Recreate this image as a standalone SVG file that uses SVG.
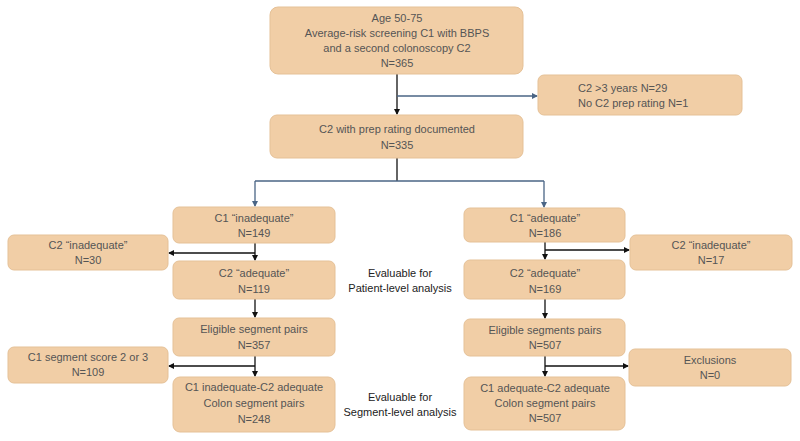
<svg xmlns="http://www.w3.org/2000/svg" width="800" height="441" viewBox="0 0 800 441">
<style>
.box{fill:#F1CEA6;stroke:#E5C197;stroke-width:1}
.t{font-family:"Liberation Sans",Arial,sans-serif;font-size:11px;fill:#555;text-anchor:middle}
.e{font-family:"Liberation Sans",Arial,sans-serif;font-size:11px;fill:#222;text-anchor:middle}
.k{stroke:#111;stroke-width:1.3;fill:none}
.b{stroke:#4a6585;stroke-width:1.3;fill:none}
</style>
<defs>
<marker id="ak" markerWidth="6" markerHeight="6" refX="5" refY="3" orient="auto" markerUnits="userSpaceOnUse"><path d="M0,0L6,3L0,6z" fill="#111"/></marker>
<marker id="ab" markerWidth="6" markerHeight="6" refX="5" refY="3" orient="auto" markerUnits="userSpaceOnUse"><path d="M0,0L6,3L0,6z" fill="#4a6585"/></marker>
</defs>
<rect width="800" height="441" fill="#fff"/>
<g id="connectors">
<path class="k" d="M397,74V114" marker-end="url(#ak)"/>
<path class="b" d="M397,96H537" marker-end="url(#ab)"/>
<path class="k" d="M397,158V181"/>
<path class="b" d="M255,181H544"/>
<path class="b" d="M255,181V206" marker-end="url(#ab)"/>
<path class="b" d="M544,181V207" marker-end="url(#ab)"/>
<path class="k" d="M255,243V260" marker-end="url(#ak)"/>
<path class="k" d="M255,253H169" marker-end="url(#ak)"/>
<path class="k" d="M545,242V259" marker-end="url(#ak)"/>
<path class="k" d="M545,250H629" marker-end="url(#ak)"/>
<path class="k" d="M255,299V317" marker-end="url(#ak)"/>
<path class="k" d="M545,299V318" marker-end="url(#ak)"/>
<path class="k" d="M255,356V376" marker-end="url(#ak)"/>
<path class="k" d="M255,366H169" marker-end="url(#ak)"/>
<path class="k" d="M545,356V376" marker-end="url(#ak)"/>
<path class="k" d="M545,366H628" marker-end="url(#ak)"/>
</g>
<g id="n1"><rect class="box" x="270" y="7" width="253" height="67" rx="8"/>
<text class="t" x="397" y="22">Age 50-75</text>
<text class="t" x="397" y="37">Average-risk screening C1 with BBPS</text>
<text class="t" x="397" y="52">and a second colonoscopy C2</text>
<text class="t" x="397" y="67">N=365</text></g>
<g id="n2"><rect class="box" x="538" y="75" width="204" height="40" rx="6"/>
<text class="t" x="578" y="92" text-anchor="start" style="text-anchor:start">C2 &gt;3 years N=29</text>
<text class="t" x="578" y="107" style="text-anchor:start">No C2 prep rating N=1</text></g>
<g id="n3"><rect class="box" x="270" y="115" width="253" height="43" rx="7"/>
<text class="t" x="397" y="133">C2 with prep rating documented</text>
<text class="t" x="397" y="149">N=335</text></g>
<g id="n4"><rect class="box" x="173" y="207" width="162" height="36" rx="6"/>
<text class="t" x="254" y="222">C1 “inadequate”</text>
<text class="t" x="254" y="237">N=149</text></g>
<g id="n5"><rect class="box" x="8" y="235" width="160" height="35" rx="6"/>
<text class="t" x="88" y="249">C2 “inadequate”</text>
<text class="t" x="88" y="264">N=30</text></g>
<g id="n6"><rect class="box" x="173" y="261" width="162" height="38" rx="6"/>
<text class="t" x="254" y="277">C2 “adequate”</text>
<text class="t" x="254" y="293">N=119</text></g>
<g id="n7"><rect class="box" x="464" y="208" width="161" height="34" rx="6"/>
<text class="t" x="545" y="222">C1 “adequate”</text>
<text class="t" x="545" y="237">N=186</text></g>
<g id="n8"><rect class="box" x="630" y="235" width="162" height="35" rx="6"/>
<text class="t" x="711" y="249">C2 “inadequate”</text>
<text class="t" x="711" y="264">N=17</text></g>
<g id="n9"><rect class="box" x="464" y="260" width="161" height="39" rx="6"/>
<text class="t" x="545" y="277">C2 “adequate”</text>
<text class="t" x="545" y="293">N=169</text></g>
<g id="n10"><rect class="box" x="173" y="318" width="162" height="38" rx="6"/>
<text class="t" x="254" y="333">Eligible  segment pairs</text>
<text class="t" x="254" y="349">N=357</text></g>
<g id="n11"><rect class="box" x="8" y="347" width="160" height="36" rx="6"/>
<text class="t" x="88" y="361">C1 segment score 2 or 3</text>
<text class="t" x="88" y="376">N=109</text></g>
<g id="n12"><rect class="box" x="173" y="377" width="162" height="55" rx="7"/>
<text class="t" x="254" y="391">C1 inadequate-C2 adequate</text>
<text class="t" x="254" y="407">Colon segment pairs</text>
<text class="t" x="254" y="423">N=248</text></g>
<g id="n13"><rect class="box" x="464" y="319" width="161" height="37" rx="6"/>
<text class="t" x="545" y="334">Eligible  segments pairs</text>
<text class="t" x="545" y="349">N=507</text></g>
<g id="n14"><rect class="box" x="629" y="349" width="162" height="37" rx="6"/>
<text class="t" x="710" y="364">Exclusions</text>
<text class="t" x="710" y="379">N=0</text></g>
<g id="n15"><rect class="box" x="464" y="377" width="161" height="53" rx="7"/>
<text class="t" x="545" y="392">C1 adequate-C2 adequate</text>
<text class="t" x="545" y="407">Colon segment pairs</text>
<text class="t" x="545" y="422">N=507</text></g>
<g id="lbl1"><text class="e" x="400" y="277">Evaluable for</text>
<text class="e" x="400" y="292">Patient-level analysis</text></g>
<g id="lbl2"><text class="e" x="400" y="401">Evaluable for</text>
<text class="e" x="400" y="416">Segment-level analysis</text></g>
</svg>
